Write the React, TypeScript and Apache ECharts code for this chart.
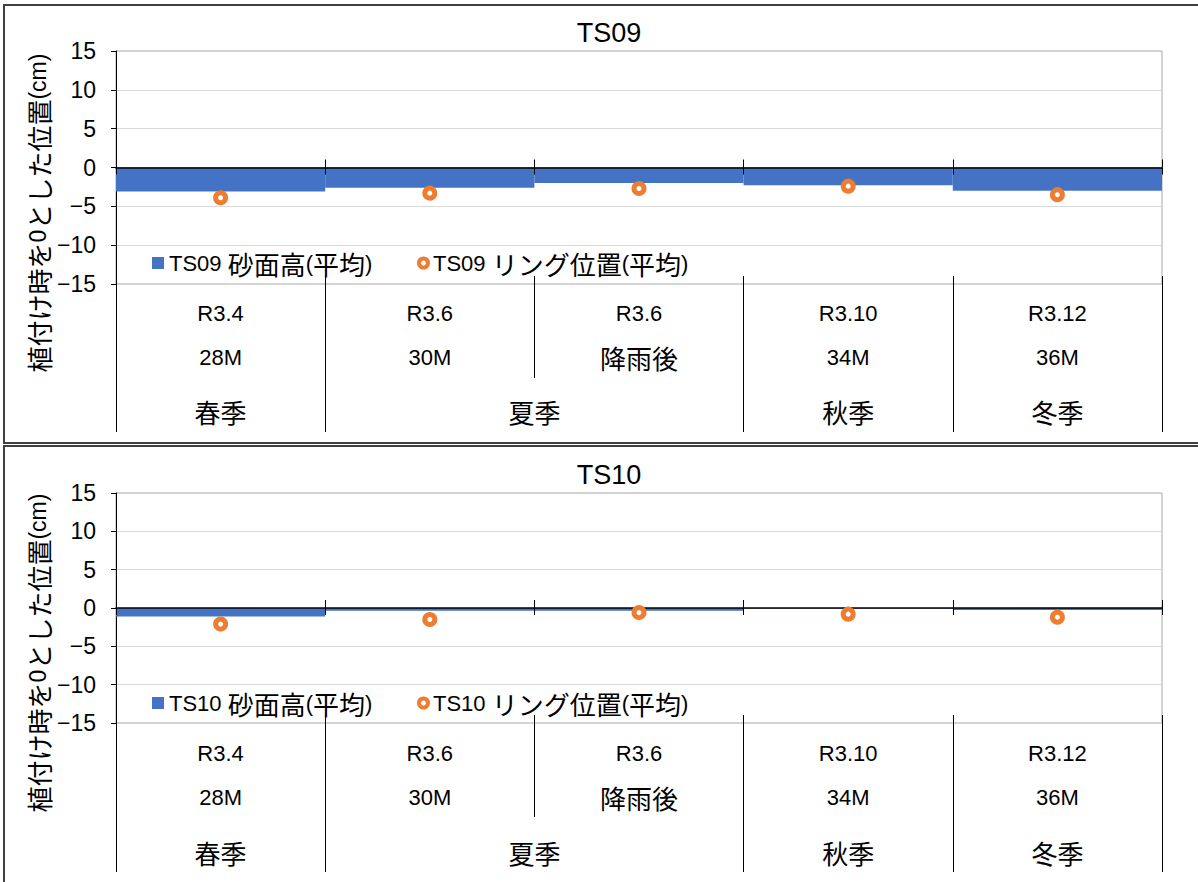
import React, { useEffect, useRef } from 'react';
import * as echarts from 'echarts';

// ---- data ----
const rowLabels1 = ['R3.4', 'R3.6', 'R3.6', 'R3.10', 'R3.12'];
const rowLabels2 = ['28M', '30M', '降雨後', '34M', '36M'];
const seasons = ['春季', '夏季', '秋季', '冬季'];
const seasonSpans = [1, 2, 1, 1];
const yMin = -15;
const yMax = 15;
const yStep = 5;

const ts09Title = 'TS09';
const ts09SandName = 'TS09 砂面高(平均)';
const ts09RingName = 'TS09 リング位置(平均)';
const ts09Sand = [-3.1, -2.6, -2.0, -2.3, -3.0];
const ts09Ring = [-3.9, -3.3, -2.7, -2.4, -3.5];

const ts10Title = 'TS10';
const ts10SandName = 'TS10 砂面高(平均)';
const ts10RingName = 'TS10 リング位置(平均)';
const ts10Sand = [-1.1, -0.35, -0.35, -0.05, -0.25];
const ts10Ring = [-2.1, -1.5, -0.6, -0.8, -1.2];

const yAxisName = '植付け時を0とした位置(cm)';

// ---- styling helpers ----
const LATIN = "'Liberation Sans', Arial, 'Noto Sans CJK JP', sans-serif";
const CJK = "'Noto Sans CJK JP', sans-serif";
const BLUE = '#4472C4';
const ORANGE = '#ED7D31';

const jp = (s: string) => s.replace(/([\u3000-\u9fff\uff00-\uffef]+)/g, '{j|$1}');
const richJ = (size: number, lineHeight?: number) => ({
  j: { fontSize: size, fontFamily: CJK, color: '#000', ...(lineHeight ? { lineHeight } : {}) },
});

const categoryKeys = rowLabels1.map((r, i) => `${r}\n${rowLabels2[i]}`);
const seasonBounds: number[] = [0];
seasonSpans.forEach((s) => seasonBounds.push(seasonBounds[seasonBounds.length - 1] + s));
const seasonCenters = seasonSpans.map((s, i) => seasonBounds[i] + s / 2);

const panels = [
  {
    title: ts09Title, sandName: ts09SandName, ringName: ts09RingName, sand: ts09Sand, ring: ts09Ring,
    gridTop: 51, gridHeight: 233, titleY: 33, legendY: 263, yNameY: 213,
    rowMargin: 15, rowTick: 102, seasonTick: 156, seasonMargin: 135,
  },
  {
    title: ts10Title, sandName: ts10SandName, ringName: ts10RingName, sand: ts10Sand, ring: ts10Ring,
    gridTop: 493, gridHeight: 230, titleY: 475, legendY: 703, yNameY: 653,
    rowMargin: 16, rowTick: 102, seasonTick: 157, seasonMargin: 137,
  },
];

function buildOption() {
  const grid: any[] = [];
  const xAxis: any[] = [];
  const yAxis: any[] = [];
  const series: any[] = [];
  const legend: any[] = [];
  const graphic: any[] = [
    { type: 'rect', silent: true, shape: { x: 4, y: 5, width: 1220, height: 438 }, style: { fill: 'none', stroke: '#404040', lineWidth: 2 } },
    { type: 'rect', silent: true, shape: { x: 4, y: 446, width: 1220, height: 460 }, style: { fill: 'none', stroke: '#404040', lineWidth: 2 } },
  ];

  panels.forEach((p, pi) => {
    grid.push({
      left: 116, top: p.gridTop, width: 1046, height: p.gridHeight,
      show: true, borderColor: '#A6A6A6', borderWidth: 1, backgroundColor: 'transparent',
    });
    const y0 = pi * 2;
    const x0 = pi * 4;
    yAxis.push({
      type: 'value', gridIndex: pi, min: yMin, max: yMax, interval: yStep,
      axisLine: { show: true, onZero: false, lineStyle: { color: '#000', width: 1 } },
      axisTick: { show: true, length: 5, lineStyle: { color: '#000' } },
      axisLabel: {
        fontSize: 23, color: '#000', fontFamily: LATIN, margin: 20,
        formatter: (v: number) => String(v).replace('-', '−'),
      },
      splitLine: { show: true, showMinLine: false, showMaxLine: false, lineStyle: { color: '#D9D9D9', width: 1 } },
    });
    yAxis.push({
      type: 'value', gridIndex: pi, min: yMin, max: yMax, show: false,
      axisLine: { onZero: false },
      splitLine: { show: false },
    });
    // main category axis on zero, ticks upward
    xAxis.push({
      type: 'category', gridIndex: pi, data: categoryKeys, position: 'bottom', z: 5,
      axisLine: { show: true, onZero: true, onZeroAxisIndex: y0, lineStyle: { color: '#000', width: 1.5 } },
      axisTick: { show: true, inside: true, length: 8, interval: 0, lineStyle: { color: '#000' } },
      axisLabel: { show: false },
      splitLine: { show: false },
    });
    // mirror axis on zero, ticks downward
    xAxis.push({
      type: 'category', gridIndex: pi, data: categoryKeys, position: 'top', z: 5,
      axisLine: { show: false, onZero: true, onZeroAxisIndex: y0 + 1 },
      axisTick: { show: true, inside: true, length: 7, interval: 0, lineStyle: { color: '#000' } },
      axisLabel: { show: false },
      splitLine: { show: false },
    });
    // label rows (R / month)
    xAxis.push({
      type: 'category', gridIndex: pi, data: categoryKeys, position: 'bottom', offset: -8,
      axisLine: { show: false, onZero: false },
      axisTick: { show: true, length: p.rowTick, interval: 0, lineStyle: { color: '#000' } },
      axisLabel: {
        interval: 0, margin: p.rowMargin, fontSize: 22, lineHeight: 44, color: '#000', fontFamily: LATIN,
        formatter: (v: string) => jp(v), rich: richJ(26, 44),
      },
      splitLine: { show: false },
    });
    // season row
    xAxis.push({
      type: 'value', gridIndex: pi, min: 0, max: seasonBounds[seasonBounds.length - 1], position: 'bottom', offset: -8,
      axisLine: { show: false, onZero: false },
      axisTick: { show: true, length: p.seasonTick, customValues: seasonBounds, lineStyle: { color: '#000' } },
      axisLabel: {
        customValues: seasonCenters, margin: p.seasonMargin, verticalAlign: 'middle',
        fontSize: 22, color: '#000', fontFamily: LATIN,
        formatter: (v: number) => {
          const i = seasonCenters.findIndex((c) => Math.abs(c - v) < 1e-6);
          return i >= 0 ? jp(seasons[i]) : '';
        },
        rich: richJ(26),
      },
      splitLine: { show: false },
    });

    series.push({
      type: 'bar', name: p.sandName, xAxisIndex: x0, yAxisIndex: y0, data: p.sand,
      barWidth: '100%', barCategoryGap: '0%', itemStyle: { color: BLUE }, z: 2,
    });
    series.push({
      type: 'scatter', name: p.ringName, xAxisIndex: x0, yAxisIndex: y0, data: p.ring,
      symbol: 'circle', symbolSize: 10,
      itemStyle: { color: '#fff', borderColor: ORANGE, borderWidth: 5, opacity: 1 }, z: 6,
    });

    const legendText = { fontSize: 22, lineHeight: 30, color: '#000', fontFamily: LATIN, rich: richJ(26, 30) };
    legend.push({
      data: [{ name: p.sandName, icon: 'rect' }], left: 152, top: p.legendY - 15, padding: 0,
      itemWidth: 12, itemHeight: 12, formatter: (n: string) => jp(n), textStyle: legendText,
      selectedMode: false,
    });
    legend.push({
      data: [{ name: p.ringName, icon: 'circle', itemStyle: { color: '#fff', borderColor: ORANGE, borderWidth: 4 } }],
      left: 417, top: p.legendY - 15, padding: 0,
      itemWidth: 9, itemHeight: 9, formatter: (n: string) => jp(n), textStyle: legendText,
      selectedMode: false,
    });

    graphic.push({
      type: 'text', x: 609, y: p.titleY, silent: true,
      style: { text: p.title, fontSize: 27, fontFamily: LATIN, fill: '#000', align: 'center', verticalAlign: 'middle' },
    });
    graphic.push({
      type: 'text', x: 38, y: p.yNameY, rotation: Math.PI / 2, silent: true,
      style: {
        text: jp(yAxisName), fontSize: 23, fontFamily: LATIN, fill: '#000', align: 'center', verticalAlign: 'middle',
        rich: richJ(26),
      },
    });
  });

  return { animation: false, backgroundColor: '#fff', grid, xAxis, yAxis, series, legend, graphic };
}

export default function App() {
  const ref = useRef<HTMLDivElement>(null);
  useEffect(() => {
    if (!ref.current) return;
    const chart = echarts.init(ref.current, undefined, { renderer: 'svg' });
    chart.setOption(buildOption() as any);
    return () => chart.dispose();
  }, []);
  return (
    <div
      ref={ref}
      style={{ position: 'absolute', left: 0, top: 0, width: 1198, height: 882, background: '#fff' }}
    />
  );
}
